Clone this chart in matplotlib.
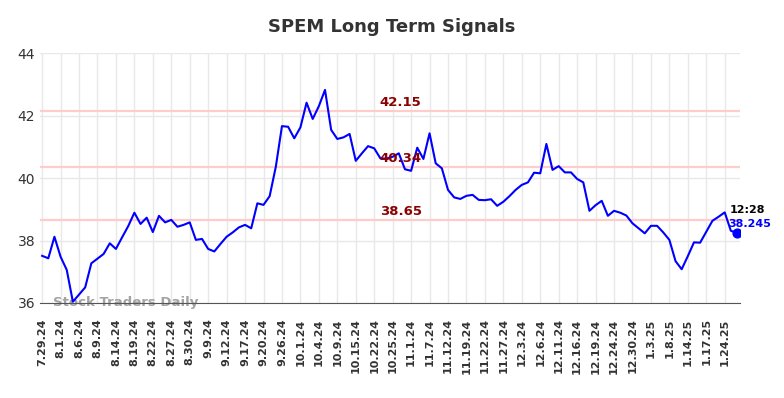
"""SPEM long term signals chart."""

import matplotlib

matplotlib.use("Agg")
import matplotlib.pyplot as plt

tick_labels = [
    "7.29.24", "8.1.24", "8.6.24", "8.9.24", "8.14.24", "8.19.24", "8.22.24",
    "8.27.24", "8.30.24", "9.9.24", "9.12.24", "9.17.24", "9.20.24", "9.26.24",
    "10.1.24", "10.4.24", "10.9.24", "10.15.24", "10.22.24", "10.25.24",
    "11.1.24", "11.7.24", "11.12.24", "11.19.24", "11.22.24", "11.27.24",
    "12.3.24", "12.6.24", "12.11.24", "12.16.24", "12.19.24", "12.24.24",
    "12.30.24", "1.3.25", "1.8.25", "1.14.25", "1.17.25", "1.24.25",
]

prices = [
    37.51, 37.43, 38.12, 37.48, 37.06, 36.04, 36.27, 36.50, 37.27, 37.42,
    37.57, 37.91, 37.73, 38.10, 38.46, 38.89, 38.53, 38.73, 38.27, 38.79,
    38.58, 38.66, 38.44, 38.50, 38.58, 38.02, 38.05, 37.73, 37.65, 37.89,
    38.12, 38.26, 38.42, 38.50, 38.39, 39.19, 39.14, 39.42, 40.36, 41.66,
    41.64, 41.27, 41.62, 42.41, 41.89, 42.30, 42.82, 41.54, 41.25, 41.30,
    41.41, 40.55, 40.79, 41.02, 40.95, 40.63, 40.62, 40.68, 40.79, 40.28,
    40.23, 40.97, 40.61, 41.43, 40.47, 40.31, 39.62, 39.38, 39.33, 39.43,
    39.46, 39.30, 39.29, 39.32, 39.11, 39.24, 39.42, 39.62, 39.78, 39.86,
    40.17, 40.15, 41.09, 40.26, 40.38, 40.18, 40.18, 39.97, 39.86, 38.95,
    39.13, 39.27, 38.79, 38.95, 38.89, 38.80, 38.55, 38.39, 38.23, 38.47,
    38.47, 38.26, 38.02, 37.34, 37.08, 37.50, 37.94, 37.93, 38.28, 38.63,
    38.76, 38.90, 38.31, 38.245,
]

signal_levels = [42.15, 40.34, 38.65]
last_time = "12:28"

x = list(range(len(prices)))
tick_positions = list(range(0, 3 * len(tick_labels), 3))

figure = plt.figure(figsize=(7.84, 3.98), dpi=100)
axis = figure.add_axes([0.051, 0.2387, 0.893, 0.6281])

for level in signal_levels:
    axis.axhline(level, color="#ffcccc", linewidth=1.6, zorder=1)
    axis.annotate(
        f"{level:.2f}",
        xy=(58.3, level),
        xytext=(0, 1.5),
        textcoords="offset points",
        ha="center",
        va="bottom",
        color="#8b0000",
        fontsize=9.5,
        fontweight="bold",
        zorder=4,
    )

axis.plot(x, prices, color="blue", linewidth=1.5, zorder=3)
axis.scatter([x[-1]], [prices[-1]], s=40, color="blue", zorder=5)
axis.annotate(
    last_time,
    xy=(x[-1], prices[-1]),
    xytext=(-5, 13),
    textcoords="offset points",
    ha="left",
    va="bottom",
    fontsize=8,
    fontweight="bold",
    color="black",
)
axis.annotate(
    f"{prices[-1]}",
    xy=(x[-1], prices[-1]),
    xytext=(-6, 2.5),
    textcoords="offset points",
    ha="left",
    va="bottom",
    fontsize=8,
    fontweight="bold",
    color="blue",
)

# watermark sits on the bottom spine
axis.text(
    0.019, 0.0, "Stock Traders Daily",
    transform=axis.transAxes,
    fontsize=9.5, fontweight="bold", color="#999999", alpha=0.9,
    ha="left", va="center", zorder=2,
)

axis.set_xlim(-0.35, 113.5)
axis.set_ylim(36, 44)
axis.set_yticks([36, 38, 40, 42, 44])
axis.set_xticks(tick_positions)
axis.set_xticklabels(tick_labels, rotation=90, fontsize=8, fontweight="bold")
axis.tick_params(axis="y", labelsize=10, colors="#333333", length=0)
axis.tick_params(axis="x", length=0, colors="#333333", pad=11)
axis.grid(color="#e8e8e8", linewidth=1)
axis.set_axisbelow(True)
for side in ["left", "right", "top"]:
    axis.spines[side].set_visible(False)
axis.spines["bottom"].set_color("#555555")

figure.suptitle("SPEM Long Term Signals", x=0.5, y=0.955, fontsize=13,
                fontweight="bold", color="#333333")

figure.savefig("out.png", dpi=100)
plt.close(figure)
